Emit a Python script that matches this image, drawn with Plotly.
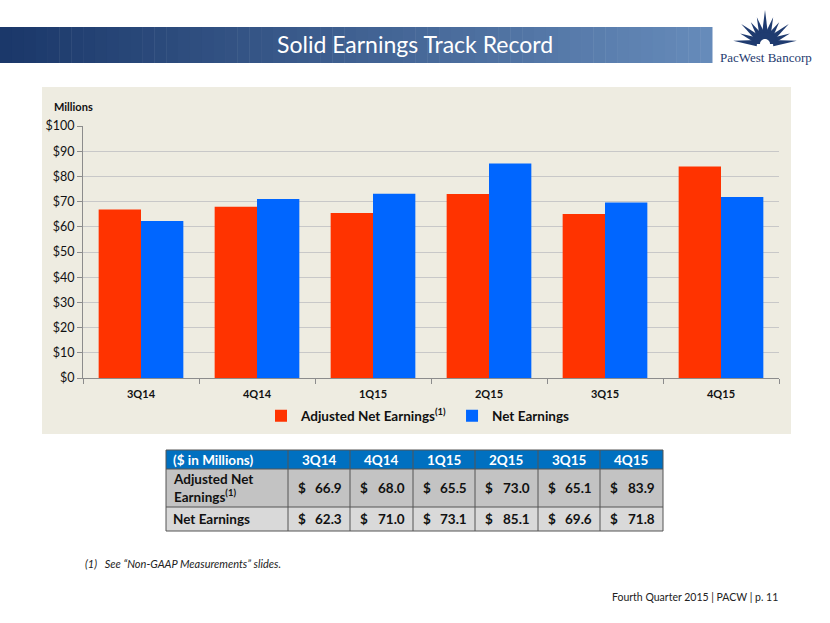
import math
import plotly.graph_objects as go

# ---------------- data ----------------
quarters = ["3Q14", "4Q14", "1Q15", "2Q15", "3Q15", "4Q15"]
adjusted_net_earnings = [66.9, 68.0, 65.5, 73.0, 65.1, 83.9]
net_earnings = [62.3, 71.0, 73.1, 85.1, 69.6, 71.8]
y_ticks = [0, 10, 20, 30, 40, 50, 60, 70, 80, 90, 100]
y_tick_labels = ["$" + str(v) for v in y_ticks]

W, H = 830, 623
FONT = "Lato"
RED = "#FF3300"
BLUE = "#0066FF"
BEIGE = "#EEECE1"
NAVY = "#1F3B70"


def px(x):
    return x / W


def py(y):
    return 1 - y / H


fig = go.Figure()
fig.add_trace(go.Bar(x=quarters, y=adjusted_net_earnings,
                     name="Adjusted Net Earnings<sup>(1)</sup>",
                     marker=dict(color=RED, line=dict(width=0))))
fig.add_trace(go.Bar(x=quarters, y=net_earnings, name="Net Earnings",
                     marker=dict(color=BLUE, line=dict(width=0))))

shapes = []
annotations = []

# chart panel
shapes.append(dict(type="rect", xref="paper", yref="paper", layer="below",
                   x0=px(42), x1=px(791), y0=py(434), y1=py(87),
                   fillcolor=BEIGE, line=dict(width=0)))

# title bar gradient
n = 60
c0 = (0x1B, 0x38, 0x6A)
c1 = (0x66, 0x8B, 0xBA)
for i in range(n):
    t = i / (n - 1)
    col = "rgb(%d,%d,%d)" % tuple(int(c0[k] + (c1[k] - c0[k]) * t) for k in range(3))
    shapes.append(dict(type="rect", xref="paper", yref="paper", layer="below",
                       x0=px(712 * i / n), x1=px(712 * (i + 1) / n + 0.5),
                       y0=py(63), y1=py(27), fillcolor=col, line=dict(width=0)))
annotations.append(dict(x=px(415), y=py(44), xref="paper", yref="paper",
                        text="Solid Earnings Track Record", showarrow=False,
                        font=dict(family=FONT, size=23, color="white"),
                        xanchor="center", yanchor="middle"))

# logo
cx, cy = 765, 44
rays = [(6, 32), (23, 27), (40, 31), (57, 26), (73, 28), (90, 34),
        (107, 28), (123, 26), (140, 31), (157, 27), (174, 32)]
for ang, ln in rays:
    a = math.radians(ang)
    dx, dy = math.cos(a), -math.sin(a)
    nx, ny = -dy, dx
    r0, w = 8, 3.2
    bx, by = cx + r0 * dx, cy + r0 * dy
    tx, ty = cx + ln * dx, cy + ln * dy
    path = "M %f %f L %f %f L %f %f Z" % (px(bx + w * nx), py(by + w * ny), px(tx), py(ty),
                                          px(bx - w * nx), py(by - w * ny))
    shapes.append(dict(type="path", xref="paper", yref="paper", path=path,
                       fillcolor=NAVY, line=dict(width=0)))


def half_disc(r):
    pts = [(cx + r * math.cos(math.radians(k * 10)), cy - r * math.sin(math.radians(k * 10)))
           for k in range(19)]
    return "M " + " L ".join("%f %f" % (px(x), py(y)) for x, y in pts) + " Z"


shapes.append(dict(type="path", xref="paper", yref="paper", path=half_disc(12),
                   fillcolor=NAVY, line=dict(width=0)))
shapes.append(dict(type="path", xref="paper", yref="paper", path=half_disc(5),
                   fillcolor="white", line=dict(width=0)))
annotations.append(dict(x=px(766), y=py(58), xref="paper", yref="paper",
                        text="PacWest Bancorp", showarrow=False,
                        font=dict(family="Liberation Serif", size=13, color=NAVY),
                        xanchor="center", yanchor="middle"))

# Millions label
annotations.append(dict(x=px(52), y=py(106), xref="paper", yref="paper",
                        text="<b>Millions</b>", showarrow=False,
                        font=dict(family=FONT, size=11, color="#111"),
                        xanchor="left", yanchor="middle"))

# ---------------- table ----------------
col_edges = [166, 288, 350, 413, 475, 538, 600, 663]
row_edges = [450, 469, 507, 531]
row_fills = ["#0070C0", "#C3C3C3", "#D9D9D9"]
for r in range(3):
    shapes.append(dict(type="rect", xref="paper", yref="paper",
                       x0=px(col_edges[0]), x1=px(col_edges[-1]),
                       y0=py(row_edges[r + 1]), y1=py(row_edges[r]),
                       fillcolor=row_fills[r], line=dict(width=0)))
for xe in col_edges:
    shapes.append(dict(type="line", xref="paper", yref="paper",
                       x0=px(xe), x1=px(xe), y0=py(row_edges[0]), y1=py(row_edges[-1]),
                       line=dict(color="#555555", width=1)))
for ye in row_edges:
    shapes.append(dict(type="line", xref="paper", yref="paper",
                       x0=px(col_edges[0]), x1=px(col_edges[-1]), y0=py(ye), y1=py(ye),
                       line=dict(color="#555555", width=1)))

TF = dict(family=FONT, size=13.5, color="#111")
TFW = dict(family=FONT, size=13.5, color="white")
row_mid = [(row_edges[i] + row_edges[i + 1]) / 2 for i in range(3)]
annotations.append(dict(x=px(171), y=py(row_mid[0]), xref="paper", yref="paper",
                        text="<b>($ in Millions)</b>", showarrow=False, font=TFW,
                        xanchor="left", yanchor="middle"))
annotations.append(dict(x=px(171), y=py(row_mid[1]), xref="paper", yref="paper",
                        text="<b>Adjusted Net<br>Earnings<sup>(1)</sup></b>", showarrow=False,
                        font=TF, xanchor="left", yanchor="middle", align="left"))
annotations.append(dict(x=px(171), y=py(row_mid[2]), xref="paper", yref="paper",
                        text="<b>Net Earnings</b>", showarrow=False, font=TF,
                        xanchor="left", yanchor="middle"))
for i, q in enumerate(quarters):
    l, r = col_edges[i + 1], col_edges[i + 2]
    annotations.append(dict(x=px((l + r) / 2), y=py(row_mid[0]), xref="paper", yref="paper",
                            text="<b>%s</b>" % q, showarrow=False, font=TFW,
                            xanchor="center", yanchor="middle"))
    for row, vals in ((1, adjusted_net_earnings), (2, net_earnings)):
        annotations.append(dict(x=px(l + 8), y=py(row_mid[row]), xref="paper", yref="paper",
                                text="<b>$</b>", showarrow=False, font=TF,
                                xanchor="left", yanchor="middle"))
        annotations.append(dict(x=px(r - 6), y=py(row_mid[row]), xref="paper", yref="paper",
                                text="<b>%.1f</b>" % vals[i], showarrow=False, font=TF,
                                xanchor="right", yanchor="middle"))

# footnote and footer
annotations.append(dict(x=px(83), y=py(563), xref="paper", yref="paper",
                        text="<i>(1)   See “Non-GAAP Measurements” slides.</i>",
                        showarrow=False, font=dict(family=FONT, size=11, color="#222"),
                        xanchor="left", yanchor="middle"))
annotations.append(dict(x=px(780), y=py(597), xref="paper", yref="paper",
                        text="Fourth Quarter 2015 | PACW | p. 11",
                        showarrow=False, font=dict(family=FONT, size=10.5, color="#222"),
                        xanchor="right", yanchor="middle"))

fig.update_layout(
    width=W, height=H,
    margin=dict(l=0, r=0, t=0, b=0),
    paper_bgcolor="white",
    plot_bgcolor="rgba(0,0,0,0)",
    barmode="group", bargap=0.27, bargroupgap=0,
    font=dict(family=FONT, color="#111"),
    showlegend=True,
    legend=dict(orientation="h", x=px(418), xanchor="center", y=py(416), yanchor="middle",
                bgcolor="rgba(0,0,0,0)", font=dict(family=FONT, size=13.5, weight="bold", color="#111"),
                itemwidth=30, tracegroupgap=0),
    xaxis=dict(domain=[px(83), px(779)], automargin=False,
               tickson="boundaries", ticks="outside", ticklen=5, tickcolor="#8C8C8C",
               showline=True, linecolor="#8C8C8C", linewidth=1, showgrid=False,
               ticklabelstandoff=6,
               tickfont=dict(family=FONT, size=11, weight="bold", color="#111"),
               fixedrange=True),
    yaxis=dict(domain=[py(378), py(126)], automargin=False,
               range=[0, 100], tickvals=y_ticks, ticktext=y_tick_labels,
               ticks="outside", ticklen=5, tickcolor="#8C8C8C",
               showline=True, linecolor="#8C8C8C", linewidth=1,
               showgrid=True, gridcolor="#C8C8C8", gridwidth=1, zeroline=False,
               tickfont=dict(family=FONT, size=12.5, color="#111")),
    shapes=shapes,
    annotations=annotations,
)

fig.write_html("out.html", config={"displayModeBar": False},
               post_script="document.body.style.margin='0';document.body.style.overflow='hidden';")
